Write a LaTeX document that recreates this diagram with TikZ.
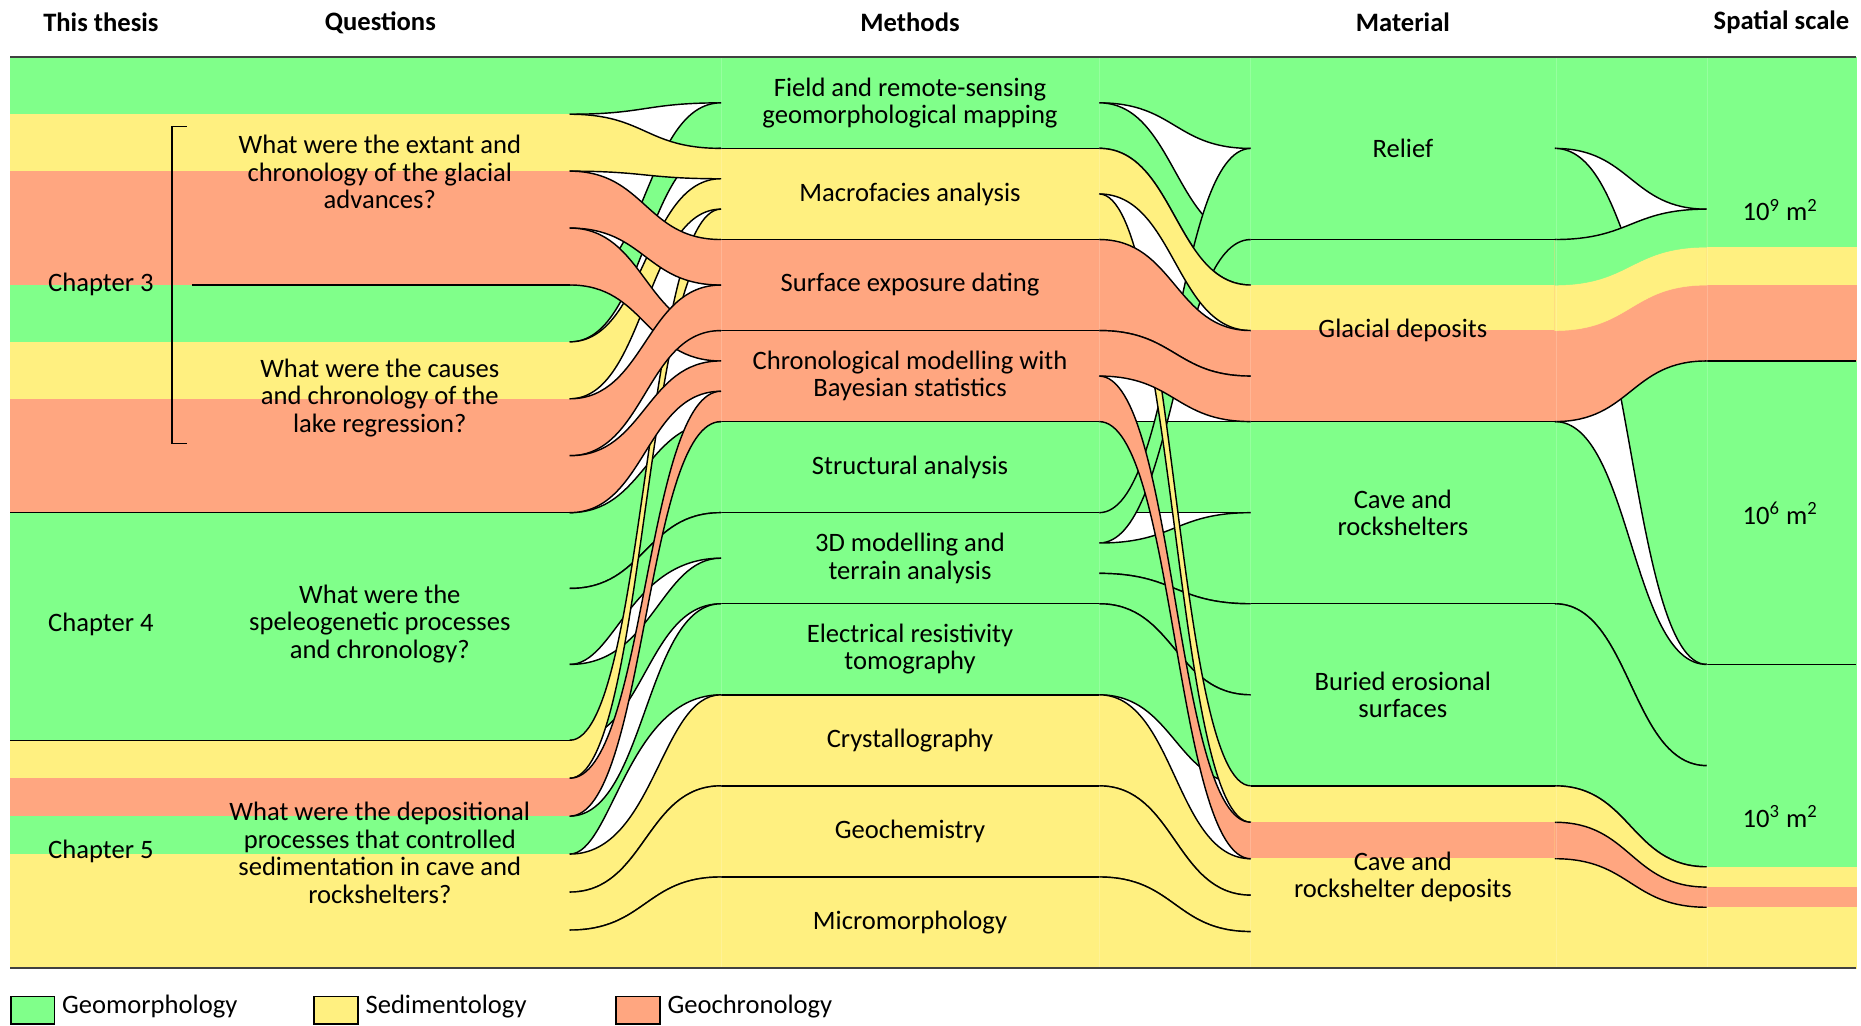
\documentclass[tikz,border=0pt]{standalone}
\usepackage{fontspec}
\setmainfont{Carlito}
\definecolor{grn}{RGB}{128,255,138}
\definecolor{ylw}{RGB}{255,240,128}
\definecolor{org}{RGB}{255,166,128}
\newcommand\fsz{\fontsize{11.2}{11.6}\selectfont}
% ribbon: [options]{color}{x0}{x1}{top0}{bot0}{top1}{bot1}
\newcommand\rib[8][]{%
  \begingroup
  \def\rbpa{.5}\def\rbqa{.5}\def\rbpb{.5}\def\rbqb{.5}\def\rbtop{1}\def\rbbot{1}#1%
  \pgfmathsetmacro\rca{#3+\rbpa*(#4-#3)}%
  \pgfmathsetmacro\rcb{#4-\rbqa*(#4-#3)}%
  \pgfmathsetmacro\rcc{#3+\rbpb*(#4-#3)}%
  \pgfmathsetmacro\rcd{#4-\rbqb*(#4-#3)}%
  \path[fill=#2,draw=#2,line width=.2pt] (#3,#5) .. controls (\rca,#5) and (\rcb,#7) .. (#4,#7) -- (#4,#8) .. controls (\rcd,#8) and (\rcc,#6) .. (#3,#6) -- cycle;
  \ifnum\rbtop=1 \draw[rbl] (#3,#5) .. controls (\rca,#5) and (\rcb,#7) .. (#4,#7);\fi
  \ifnum\rbbot=1 \draw[rbl] (#3,#6) .. controls (\rcc,#6) and (\rcd,#8) .. (#4,#8);\fi
  \endgroup}
\newcommand\redge[4]{\pgfmathsetmacro\rcm{(#1+#2)/2}\draw[rbl] (#1,#3) .. controls (\rcm,#3) and (\rcm,#4) .. (#2,#4);}
\begin{document}
\begin{tikzpicture}[x=0.5pt,y=-0.5pt,
  rbl/.style={draw=black,line width=.6pt},
  bnd/.style={fill=#1,draw=#1,line width=.2pt},
  lbl/.style={font=\fsz,align=center,inner sep=0pt},
  hdr/.style={font=\fsz\bfseries,inner sep=0pt},
  lgbox/.style={draw=black,line width=.6pt,fill=#1,minimum width=18.5pt,minimum height=11.5pt,anchor=north west,inner sep=0pt}]
\useasboundingbox (0,0) rectangle (1568,864);

% ---------- column bands ----------
% questions
\path[bnd=grn] (8.5,48.3) rectangle (480,96.25);
\path[bnd=ylw] (8.5,96.25) rectangle (480,144.2);
\path[bnd=org] (8.5,144.2) rectangle (480,240.1);
\path[bnd=grn] (8.5,240.1) rectangle (480,288.05);
\path[bnd=ylw] (8.5,288.05) rectangle (480,336);
\path[bnd=org] (8.5,336) rectangle (480,431.9);
\path[bnd=grn] (8.5,431.9) rectangle (480,623.7);
\path[bnd=ylw] (8.5,623.7) rectangle (480,655.7);
\path[bnd=org] (8.5,655.7) rectangle (480,687.6);
\path[bnd=grn] (8.5,687.6) rectangle (480,719.6);
\path[bnd=ylw] (8.5,719.6) rectangle (480,815.6);
% methods
\path[bnd=grn] (607.5,48.3) rectangle (926,125);
\path[bnd=ylw] (607.5,125) rectangle (926,201.8);
\path[bnd=org] (607.5,201.8) rectangle (926,355.2);
\path[bnd=grn] (607.5,355.2) rectangle (926,585.4);
\path[bnd=ylw] (607.5,585.4) rectangle (926,815.6);
% material
\path[bnd=grn] (1054,48.3) rectangle (1310,240.15);
\path[bnd=ylw] (1054,240.15) rectangle (1310,278.5);
\path[bnd=org] (1054,278.5) rectangle (1310,355.2);
\path[bnd=grn] (1054,355.2) rectangle (1310,662.1);
\path[bnd=ylw] (1054,662.1) rectangle (1310,692.8);
\path[bnd=org] (1054,692.8) rectangle (1310,723.5);
\path[bnd=ylw] (1054,723.5) rectangle (1310,815.6);
% spatial scale
\path[bnd=grn] (1438,48.3) rectangle (1564,208.2);
\path[bnd=ylw] (1438,208.2) rectangle (1564,240.2);
\path[bnd=org] (1438,240.2) rectangle (1564,304.1);
\path[bnd=grn] (1438,304.1) rectangle (1564,730.3);
\path[bnd=ylw] (1438,730.3) rectangle (1564,747.4);
\path[bnd=org] (1438,747.4) rectangle (1564,764.4);
\path[bnd=ylw] (1438,764.4) rectangle (1564,815.6);

% ---------- links: questions -> methods ----------
\rib[\def\rbtop{0}]{grn}{480}{607.5}{48.3}{96.25}{48.3}{86.65}
\rib{grn}{480}{607.5}{240.1}{288.05}{86.65}{125}
\rib{grn}{480}{607.5}{431.9}{495.8}{355.2}{431.95}
\rib[\def\rbpb{.3}\def\rbqb{.6}]{grn}{480}{607.5}{495.8}{559.8}{431.95}{470.3}
\rib[\def\rbpa{.55}\def\rbqa{.4}]{grn}{480}{607.5}{559.8}{623.7}{470.3}{508.7}
\rib[\def\rbpb{.28}\def\rbqb{.62}]{grn}{480}{607.5}{687.6}{719.6}{508.7}{585.4}
\rib{ylw}{480}{607.5}{96.25}{144.2}{125}{150.6}
\rib{ylw}{480}{607.5}{288.05}{336}{150.6}{176.2}
\rib{ylw}{480}{607.5}{623.7}{655.7}{176.2}{201.8}
\rib[\def\rbpa{.56}\def\rbqa{.4}]{ylw}{480}{607.5}{719.6}{751.6}{585.4}{662.1}
\rib{ylw}{480}{607.5}{751.6}{783.6}{662.1}{738.9}
\rib[\def\rbbot{0}]{ylw}{480}{607.5}{783.6}{815.6}{738.9}{815.6}
\rib{org}{480}{607.5}{144.2}{192.15}{201.8}{240.15}
\rib{org}{480}{607.5}{192.15}{240.1}{278.5}{304.1}
\rib{org}{480}{607.5}{336}{383.95}{240.15}{278.5}
\rib{org}{480}{607.5}{383.95}{431.9}{304.1}{329.65}
\rib{org}{480}{607.5}{655.7}{687.6}{329.65}{355.2}

% ---------- links: methods -> material ----------
\rib[\def\rbtop{0}]{grn}{926}{1054}{48.3}{86.65}{48.3}{125.05}
\rib{grn}{926}{1054}{86.65}{125}{201.8}{240.15}
\rib{grn}{926}{1054}{355.2}{431.95}{355.2}{431.95}
\rib{grn}{926}{1054}{431.95}{457.5}{125.05}{201.8}
\rib{grn}{926}{1054}{457.5}{483.1}{431.95}{508.7}
\rib{grn}{926}{1054}{483.1}{508.7}{508.7}{585.4}
\rib{grn}{926}{1054}{508.7}{585.4}{585.4}{662.1}
\rib{ylw}{926}{1054}{125}{163.4}{240.15}{278.5}
\rib{ylw}{926}{1054}{163.4}{201.8}{662.1}{692.8}
\rib{ylw}{926}{1054}{585.4}{662.1}{723.5}{754.2}
\rib{ylw}{926}{1054}{662.1}{738.9}{754.2}{784.9}
\rib[\def\rbbot{0}]{ylw}{926}{1054}{738.9}{815.6}{784.9}{815.6}
\rib{org}{926}{1054}{201.8}{278.5}{278.5}{316.85}
\rib{org}{926}{1054}{278.5}{316.85}{316.85}{355.2}
\rib{org}{926}{1054}{316.85}{355.2}{692.8}{723.5}

% ---------- links: material -> spatial scale ----------
\rib[\def\rbtop{0}]{grn}{1310}{1438}{48.3}{125.05}{48.3}{176.2}
\rib{grn}{1310}{1438}{125.05}{201.8}{304.1}{559.8}
\rib{grn}{1310}{1438}{355.2}{508.7}{559.8}{645.1}
\rib{grn}{1310}{1438}{508.7}{662.1}{645.1}{730.3}
\rib[\def\rbtop{0}\def\rbbot{0}]{org}{1310}{1438}{201.8}{355.2}{176.2}{304.1}
\rib[\def\rbtop{0}\def\rbbot{0}]{ylw}{1310}{1438}{201.8}{278.5}{176.2}{240.2}
\rib[\def\rbtop{0}\def\rbbot{0}]{grn}{1310}{1438}{201.8}{240.15}{176.2}{208.2}
\redge{1310}{1438}{201.8}{176.2}
\redge{1310}{1438}{355.2}{304.1}
\rib[\def\rbbot{0}]{ylw}{1310}{1438}{662.1}{815.6}{730.3}{815.6}
\rib{org}{1310}{1438}{692.8}{723.5}{747.4}{764.4}

% ---------- node boundary lines ----------
\draw[rbl] (161.7,240.1) -- (480,240.1);
\draw[rbl] (8.5,431.9) -- (480,431.9);
\draw[rbl] (8.5,623.7) -- (480,623.7);
\foreach \yy in {125,201.8,278.5,355.2,431.95,508.7,585.4,662.1,738.9}
  \draw[rbl] (607.5,\yy) -- (926,\yy);
\foreach \yy in {201.8,355.2,508.7,662.1}
  \draw[rbl] (1054,\yy) -- (1310,\yy);
\foreach \yy in {304.1,559.8}
  \draw[rbl] (1438,\yy) -- (1564,\yy);
% bracket for chapter 3
\draw[rbl] (157.5,106.7) -- (145,106.7) -- (145,373.5) -- (157.5,373.5);
% faint seams
\foreach \sx in {607.5,926.5,1054,1311,1438.5}
  \draw[white,opacity=.18,line width=.4pt] (\sx,48.3) -- (\sx,815.6);
% borders
\draw[black!75,line width=.9pt] (8.5,48.3) -- (1564,48.3);
\draw[black!75,line width=.9pt] (8.5,815.6) -- (1564,815.6);

% ---------- headers ----------
\node[hdr] (hThesis) at (85,19) {This thesis};
\node[hdr] (hQuest) at (320.5,19) {Questions};
\node[hdr] (hMeth) at (766.75,19) {Methods};
\node[hdr] (hMat) at (1182,19) {Material};
\node[hdr] (hScale) at (1501,19) {Spatial scale};

% ---------- chapters & questions ----------
\node[lbl] (ch3) at (85,240) {Chapter 3};
\node[lbl] (ch4) at (85,526) {Chapter 4};
\node[lbl] (ch5) at (85,717.5) {Chapter 5};
\node[lbl] (q1) at (320,145) {What were the extant and\\chronology of the glacial\\advances?};
\node[lbl] (q2) at (320,335) {What were the causes\\and chronology of the\\lake regression?};
\node[lbl] (q3) at (320,525.5) {What were the\\speleogenetic processes\\and chronology?};
\node[lbl] (q4) at (320,718.5) {What were the depositional\\processes that controlled\\sedimentation in cave and\\rockshelters?};

% ---------- methods ----------
\node[lbl] (m1) at (766.75,86.65) {Field and remote-sensing\\geomorphological mapping};
\node[lbl] (m2) at (766.75,163.4) {Macrofacies analysis};
\node[lbl] (m3) at (766.75,240.15) {Surface exposure dating};
\node[lbl] (m4) at (766.75,316.85) {Chronological modelling with\\Bayesian statistics};
\node[lbl] (m5) at (766.75,393.6) {Structural analysis};
\node[lbl] (m6) at (766.75,470.3) {3D modelling and\\terrain analysis};
\node[lbl] (m7) at (766.75,547) {Electrical resistivity\\tomography};
\node[lbl] (m8) at (766.75,623.75) {Crystallography};
\node[lbl] (m9) at (766.75,700.5) {Geochemistry};
\node[lbl] (m10) at (766.75,777.25) {Micromorphology};

% ---------- material ----------
\node[lbl] (t1) at (1182,125.05) {Relief};
\node[lbl] (t2) at (1182,278.5) {Glacial deposits};
\node[lbl] (t3) at (1182,431.95) {Cave and\\rockshelters};
\node[lbl] (t4) at (1182,585.4) {Buried erosional\\surfaces};
\node[lbl] (t5) at (1182,738.85) {Cave and\\rockshelter deposits};

% ---------- spatial scale ----------
\node[lbl] (s1) at (1500,177) {10\textsuperscript{9} m\textsuperscript{2}};
\node[lbl] (s2) at (1500,432.5) {10\textsuperscript{6} m\textsuperscript{2}};
\node[lbl] (s3) at (1500,688) {10\textsuperscript{3} m\textsuperscript{2}};

% ---------- legend ----------
\node[lgbox=grn] (lgG) at (8.5,839) {};
\node[font=\fsz,anchor=west,inner sep=0pt] (lgGt) at (52,848) {Geomorphology};
\node[lgbox=ylw] (lgS) at (264,839) {};
\node[font=\fsz,anchor=west,inner sep=0pt] (lgSt) at (307.6,848) {Sedimentology};
\node[lgbox=org] (lgC) at (518.5,839) {};
\node[font=\fsz,anchor=west,inner sep=0pt] (lgCt) at (562,848) {Geochronology};
\end{tikzpicture}
\end{document}
